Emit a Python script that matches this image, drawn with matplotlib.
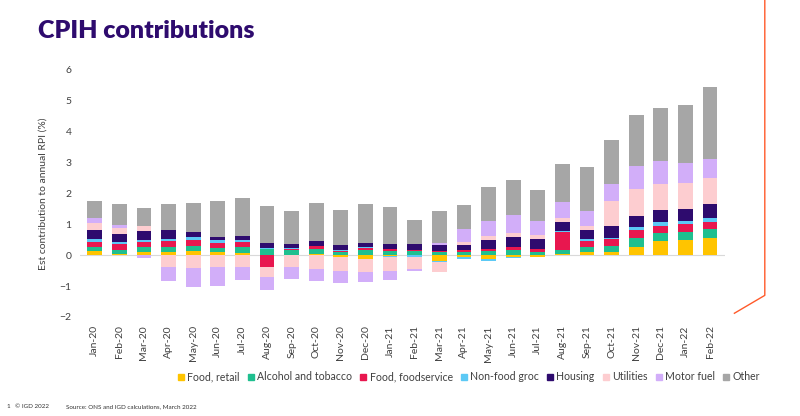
import numpy as np
import matplotlib
matplotlib.use("Agg")
import matplotlib.pyplot as plt
from matplotlib.lines import Line2D

# # Data (contribution to annual rate, percentage points)
months = ["Jan-20", "Feb-20", "Mar-20", "Apr-20", "May-20", "Jun-20", "Jul-20", "Aug-20",
          "Sep-20", "Oct-20", "Nov-20", "Dec-20", "Jan-21", "Feb-21", "Mar-21", "Apr-21",
          "May-21", "Jun-21", "Jul-21", "Aug-21", "Sep-21", "Oct-21", "Nov-21", "Dec-21",
          "Jan-22", "Feb-22"]

food_retail = [0.14, 0.05, 0.12, 0.11, 0.14, 0.11, 0.06, 0.02, 0.02, 0.05, -0.07, -0.13, -0.03,
               0.02, -0.19, -0.07, -0.13, -0.07, -0.07, 0.03, 0.10, 0.11, 0.27, 0.46, 0.49, 0.57]
alcohol_tobacco = [0.13, 0.13, 0.15, 0.15, 0.15, 0.12, 0.20, 0.17, 0.14, 0.16, 0.12, 0.16, 0.15,
                   0.11, 0.10, 0.12, 0.13, 0.16, 0.10, 0.15, 0.17, 0.20, 0.29, 0.26, 0.27, 0.27]
food_foodservice = [0.17, 0.17, 0.15, 0.20, 0.21, 0.17, 0.18, -0.39, 0.04, 0.075, 0.02, 0.075, 0.065,
                    0.05, 0.04, 0.04, 0.065, 0.11, 0.09, 0.56, 0.19, 0.20, 0.25, 0.24, 0.24, 0.23]
non_food_groc = [0.09, 0.09, 0.07, 0.08, 0.09, 0.08, 0.04, 0.04, 0.02, 0.02, 0.02, 0.02, -0.02,
                 -0.05, -0.04, -0.04, -0.05, -0.03, 0.01, 0.03, 0.05, 0.04, 0.09, 0.11, 0.10, 0.15]
housing = [0.30, 0.26, 0.29, 0.29, 0.15, 0.10, 0.13, 0.15, 0.15, 0.14, 0.16, 0.14, 0.16,
           0.19, 0.19, 0.16, 0.29, 0.33, 0.31, 0.32, 0.31, 0.38, 0.37, 0.41, 0.41, 0.45]
utilities = [0.21, 0.18, 0.16, -0.38, -0.40, -0.37, -0.37, -0.33, -0.38, -0.45, -0.44, -0.42, -0.45,
             -0.40, -0.30, 0.11, 0.13, 0.12, 0.13, 0.13, 0.13, 0.82, 0.86, 0.82, 0.82, 0.83]
motor_fuel = [0.15, 0.09, -0.08, -0.44, -0.63, -0.62, -0.44, -0.42, -0.38, -0.38, -0.38, -0.32, -0.31,
              -0.06, 0.06, 0.41, 0.50, 0.57, 0.48, 0.49, 0.49, 0.56, 0.75, 0.74, 0.66, 0.60]
other = [0.56, 0.70, 0.59, 0.84, 0.95, 1.17, 1.25, 1.20, 1.06, 1.26, 1.15, 1.26, 1.19,
         0.77, 1.05, 0.78, 1.09, 1.13, 1.00, 1.24, 1.40, 1.43, 1.67, 1.72, 1.87, 2.35]

series_names = ["Food, retail", "Alcohol and tobacco", "Food, foodservice", "Non-food groc",
                "Housing", "Utilities", "Motor fuel", "Other"]
series_values = [food_retail, alcohol_tobacco, food_foodservice, non_food_groc,
                 housing, utilities, motor_fuel, other]
series_colors = ["#FFC400", "#1FBF8F", "#E8174F", "#5CC9F5",
                 "#2E0B6E", "#FDCDD0", "#D2AEF9", "#A6A6A6"]

text_color = "#404040"
title_color = "#2E0B6E"

plt.rcParams["font.family"] = ["Lato", "DejaVu Sans"]

fig = plt.figure(figsize=(8, 4.16), dpi=100)
ax = fig.add_axes([0.10, 0.238, 0.806, 0.594])

x = np.arange(len(months))
pos_bottom = np.zeros(len(months))
neg_bottom = np.zeros(len(months))
for name, vals, col in zip(series_names, series_values, series_colors):
    vals = np.array(vals)
    bottoms = np.where(vals >= 0, pos_bottom, neg_bottom)
    ax.bar(x, vals, width=0.6, bottom=bottoms, color=col, label=name, zorder=3)
    pos_bottom += np.where(vals >= 0, vals, 0)
    neg_bottom += np.where(vals < 0, vals, 0)

ax.axhline(0, color="#D9D9D9", linewidth=0.8, zorder=1)

ax.set_xlim(-0.6, len(months) - 0.4)
ax.set_ylim(-2, 6)
ax.set_yticks(range(-2, 7))
ax.set_xticks(x)
ax.set_xticklabels(months, rotation=90, fontsize=7.5, color=text_color)
ax.tick_params(axis="y", labelsize=7.5, colors=text_color, length=0, pad=6)
ax.tick_params(axis="x", length=0, pad=6)
for s in ax.spines.values():
    s.set_visible(False)
ax.set_ylabel("Est contribution to annual RPI (%)", fontsize=7.5, color=text_color, labelpad=9)

# # Legend below the chart with small square markers
handles = [Line2D([], [], marker="s", linestyle="none", markersize=4.5,
                  markerfacecolor=c, markeredgecolor=c) for c in series_colors]
fig.legend(handles, series_names, loc="center", bbox_to_anchor=(0.586, 0.094), ncol=8,
           frameon=False, fontsize=7.6, handlelength=0.6, handletextpad=0.3,
           columnspacing=0.75, labelcolor=text_color)

# # Title and footer
fig.text(0.047, 0.925, "CPIH contributions", fontsize=18, fontweight="heavy",
         color=title_color, va="center", ha="left")
fig.text(0.008, 0.022, "1", fontsize=4.5, color="#333333", va="center")
fig.text(0.019, 0.022, "\u00a9 IGD 2022", fontsize=4.5, color="#333333", va="center")
fig.text(0.082, 0.022, "Source: ONS and IGD calculations, March 2022", fontsize=4.5,
         color="#333333", va="center")

# # Decorative orange line on the right
fig.add_artist(Line2D([0.956, 0.956, 0.918], [1.0, 0.29, 0.247],
                      transform=fig.transFigure, color="#FF5A2A", linewidth=1.0))

fig.savefig("out.png", dpi=100, facecolor="white")
